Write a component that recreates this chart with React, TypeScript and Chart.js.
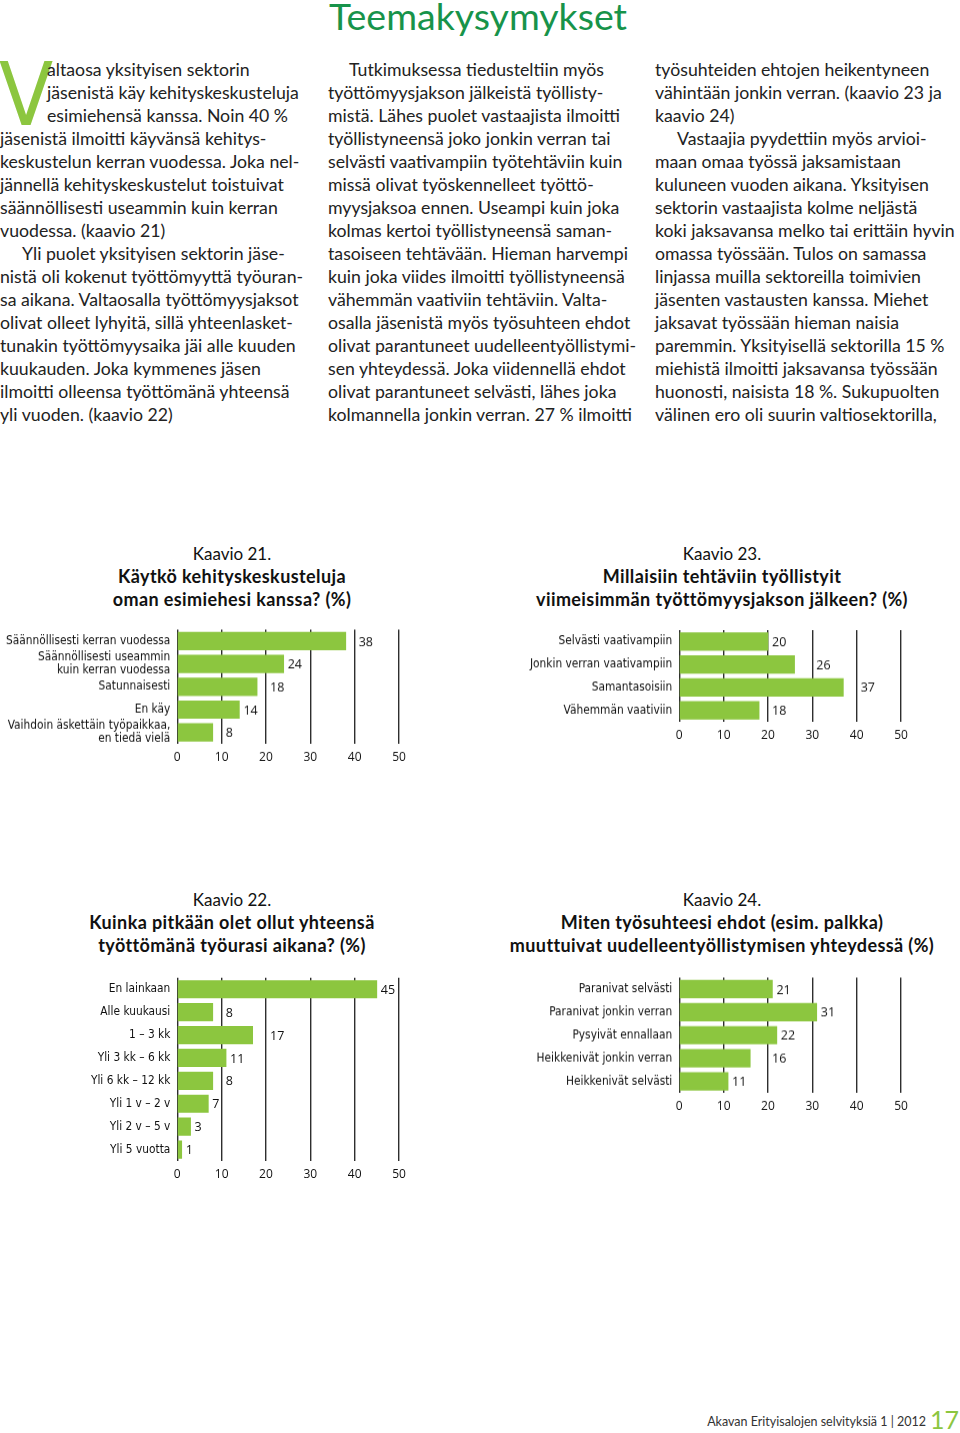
import React, { useEffect, useRef } from "react";
import { Chart, registerables } from "chart.js";

Chart.register(...registerables);

// ---------- DATA ----------
const xTicks = [0, 10, 20, 30, 40, 50];

const chart21Labels: (string | string[])[] = [
  "Säännöllisesti kerran vuodessa",
  ["Säännöllisesti useammin", "kuin kerran vuodessa"],
  "Satunnaisesti",
  "En käy",
  ["Vaihdoin äskettäin työpaikkaa,", "en tiedä vielä"],
];
const chart21Values = [38, 24, 18, 14, 8];

const chart22Labels = [
  "En lainkaan",
  "Alle kuukausi",
  "1 – 3 kk",
  "Yli 3 kk – 6 kk",
  "Yli 6 kk – 12 kk",
  "Yli 1 v – 2 v",
  "Yli 2 v – 5 v",
  "Yli 5 vuotta",
];
const chart22Values = [45, 8, 17, 11, 8, 7, 3, 1];

const chart23Labels = [
  "Selvästi vaativampiin",
  "Jonkin verran vaativampiin",
  "Samantasoisiin",
  "Vähemmän vaativiin",
];
const chart23Values = [20, 26, 37, 18];

const chart24Labels = [
  "Paranivat selvästi",
  "Paranivat jonkin verran",
  "Pysyivät ennallaan",
  "Heikkenivät jonkin verran",
  "Heikkenivät selvästi",
];
const chart24Values = [21, 31, 22, 16, 11];

// ---------- TEXT ----------
const col1Lines = [
  "altaosa yksityisen sektorin",
  "jäsenistä käy kehityskeskusteluja",
  "esimiehensä kanssa. Noin 40 %",
  "jäsenistä ilmoitti käyvänsä kehitys-",
  "keskustelun kerran vuodessa. Joka nel-",
  "jännellä kehityskeskustelut toistuivat",
  "säännöllisesti useammin kuin kerran",
  "vuodessa. (kaavio 21)",
  "Yli puolet yksityisen sektorin jäse-",
  "nistä oli kokenut työttömyyttä työuran-",
  "sa aikana. Valtaosalla työttömyysjaksot",
  "olivat olleet lyhyitä, sillä yhteenlasket-",
  "tunakin työttömyysaika jäi alle kuuden",
  "kuukauden. Joka kymmenes jäsen",
  "ilmoitti olleensa työttömänä yhteensä",
  "yli vuoden. (kaavio 22)",
];
const col2Lines = [
  "Tutkimuksessa tiedusteltiin myös",
  "työttömyysjakson jälkeistä työllisty-",
  "mistä. Lähes puolet vastaajista ilmoitti",
  "työllistyneensä joko jonkin verran tai",
  "selvästi vaativampiin työtehtäviin kuin",
  "missä olivat työskennelleet työttö-",
  "myysjaksoa ennen. Useampi kuin joka",
  "kolmas kertoi työllistyneensä saman-",
  "tasoiseen tehtävään. Hieman harvempi",
  "kuin joka viides ilmoitti työllistyneensä",
  "vähemmän vaativiin tehtäviin. Valta-",
  "osalla jäsenistä myös työsuhteen ehdot",
  "olivat parantuneet uudelleentyöllistymi-",
  "sen yhteydessä. Joka viidennellä ehdot",
  "olivat parantuneet selvästi, lähes joka",
  "kolmannella jonkin verran. 27 % ilmoitti",
];
const col3Lines = [
  "työsuhteiden ehtojen heikentyneen",
  "vähintään jonkin verran. (kaavio 23 ja",
  "kaavio 24)",
  "Vastaajia pyydettiin myös arvioi-",
  "maan omaa työssä jaksamistaan",
  "kuluneen vuoden aikana. Yksityisen",
  "sektorin vastaajista kolme neljästä",
  "koki jaksavansa melko tai erittäin hyvin",
  "omassa työssään. Tulos on samassa",
  "linjassa muilla sektoreilla toimivien",
  "jäsenten vastausten kanssa. Miehet",
  "jaksavat työssään hieman naisia",
  "paremmin. Yksityisellä sektorilla 15 %",
  "miehistä ilmoitti jaksavansa työssään",
  "huonosti, naisista 18 %. Sukupuolten",
  "välinen ero oli suurin valtiosektorilla,",
];

const BAR_COLOR = "#8cc63f";
const GRID_COLOR = "#2e2e2e";
const LABEL_FONT = "'DejaVu Sans Condensed', 'Liberation Sans Narrow', sans-serif";
const NUM_FONT = "'Open Sans', 'DejaVu Sans', sans-serif";
const BODY_FONT = "Lato, 'Open Sans', sans-serif";

const valueLabelPlugin = {
  id: "valueLabels",
  afterDatasetsDraw(chart: any) {
    const ctx = chart.ctx;
    const meta = chart.getDatasetMeta(0);
    const xs = chart.scales.x;
    const data = chart.data.datasets[0].data;
    ctx.save();
    ctx.font = `12.5px ${NUM_FONT}`;
    ctx.fillStyle = "#111";
    ctx.textBaseline = "middle";
    ctx.textAlign = "left";
    meta.data.forEach((bar: any, i: number) => {
      const txt = String(data[i]);
      const w = ctx.measureText(txt).width;
      let x = bar.x + 4;
      for (const t of xTicks) {
        const gx = xs.getPixelForValue(t);
        if (gx >= bar.x - 0.6 && gx <= x + w + 1) x = gx + 4;
      }
      ctx.fillText(txt, x, bar.y + 1);
    });
    ctx.restore();
  },
};

type BarProps = {
  labels: (string | string[])[];
  values: number[];
  left: number;
  top: number;
  width: number;
  axisLeft: number;
  axisRight: number;
  areaTop: number;
  areaHeight: number;
};

function BarChart(p: BarProps) {
  const ref = useRef<HTMLCanvasElement>(null);
  const xAxisH = 30;
  const height = p.areaTop - p.top + p.areaHeight + xAxisH;
  useEffect(() => {
    if (!ref.current) return;
    const chart = new Chart(ref.current, {
      type: "bar",
      data: {
        labels: p.labels as any,
        datasets: [
          {
            data: p.values,
            backgroundColor: BAR_COLOR,
            borderWidth: 0,
            barThickness: 17.5,
          },
        ],
      },
      options: {
        indexAxis: "y",
        responsive: false,
        animation: false,
        events: [],
        layout: {
          padding: {
            top: p.areaTop - p.top,
            bottom: 0,
            left: 0,
            right: p.width - (p.axisRight - p.left),
          },
        },
        plugins: {
          legend: { display: false },
          tooltip: { enabled: false },
          title: { display: false },
        },
        scales: {
          x: {
            type: "linear",
            min: 0,
            max: 50,
            afterFit: (s: any) => {
              s.height = xAxisH;
              s.paddingLeft = 0;
              s.paddingRight = 0;
            },
            ticks: {
              stepSize: 10,
              padding: 6,
              color: "#111",
              font: { family: NUM_FONT, size: 12 },
            },
            grid: {
              color: GRID_COLOR,
              lineWidth: 1.4,
              drawTicks: false,
            },
            border: { display: false },
          },
          y: {
            type: "category",
            afterFit: (s: any) => {
              s.width = p.axisLeft - p.left;
              s.paddingTop = 0;
              s.paddingBottom = 0;
            },
            ticks: {
              autoSkip: false,
              padding: 7,
              color: "#111",
              font: { family: LABEL_FONT, size: 11.8, lineHeight: 1.14 },
            },
            grid: { display: false, drawTicks: false },
            border: { display: false },
          },
        },
      },
      plugins: [valueLabelPlugin],
    });
    return () => chart.destroy();
  }, []);
  return (
    <canvas
      ref={ref}
      width={p.width}
      height={height}
      style={{
        position: "absolute",
        left: p.left,
        top: p.top,
        width: p.width,
        height: height,
      }}
    />
  );
}

function ChartTitle({ cx, top, lines }: { cx: number; top: number; lines: string[] }) {
  return (
    <div
      style={{
        position: "absolute",
        left: cx - 240,
        width: 480,
        top: top,
        textAlign: "center",
        lineHeight: "23px",
        color: "#111",
        whiteSpace: "nowrap",
      }}
    >
      <div style={{ fontFamily: BODY_FONT, fontSize: 17 }}>{lines[0]}</div>
      {lines.slice(1).map((l, i) => (
        <div
          key={i}
          style={{ fontFamily: BODY_FONT, fontSize: 18, fontWeight: 700, letterSpacing: 0.4 }}
        >
          {l}
        </div>
      ))}
    </div>
  );
}

function Column({
  left,
  lines,
  indents,
}: {
  left: number;
  lines: string[];
  indents: Record<number, number>;
}) {
  return (
    <div
      style={{
        position: "absolute",
        left,
        top: 57.5,
        fontFamily: BODY_FONT,
        fontSize: 17.7,
        lineHeight: "23px",
        color: "#222",
        whiteSpace: "nowrap",
      }}
    >
      {lines.map((l, i) => (
        <div key={i} style={{ paddingLeft: indents[i] || 0 }}>
          {l}
        </div>
      ))}
    </div>
  );
}

export default function App() {
  return (
    <div
      style={{
        position: "absolute",
        left: 0,
        top: 0,
        width: 960,
        height: 1433,
        background: "#fff",
        overflow: "hidden",
      }}
    >
      <div
        style={{
          position: "absolute",
          left: 0,
          width: 956,
          top: -6,
          textAlign: "center",
          fontFamily: BODY_FONT,
          fontSize: 37.5,
          lineHeight: "44px",
          color: "#17934a",
        }}
      >
        Teemakysymykset
      </div>

      <div
        style={{
          position: "absolute",
          left: -1,
          top: 50,
          fontFamily: LABEL_FONT,
          fontSize: 88,
          lineHeight: "90px",
          color: BAR_COLOR,
        }}
      >
        V
      </div>

      <Column left={0} lines={col1Lines} indents={{ 0: 47, 1: 47, 2: 47, 8: 22 }} />
      <Column left={328} lines={col2Lines} indents={{ 0: 21 }} />
      <Column left={655} lines={col3Lines} indents={{ 3: 22 }} />

      <ChartTitle
        cx={232}
        top={542}
        lines={["Kaavio 21.", "Käytkö kehityskeskusteluja", "oman esimiehesi kanssa? (%)"]}
      />
      <ChartTitle
        cx={722}
        top={542}
        lines={[
          "Kaavio 23.",
          "Millaisiin tehtäviin työllistyit",
          "viimeisimmän työttömyysjakson jälkeen? (%)",
        ]}
      />
      <ChartTitle
        cx={232}
        top={888}
        lines={[
          "Kaavio 22.",
          "Kuinka pitkään olet ollut yhteensä",
          "työttömänä työurasi aikana? (%)",
        ]}
      />
      <ChartTitle
        cx={722}
        top={888}
        lines={[
          "Kaavio 24.",
          "Miten työsuhteesi ehdot (esim. palkka)",
          "muuttuivat uudelleentyöllistymisen yhteydessä (%)",
        ]}
      />

      <BarChart
        labels={chart21Labels}
        values={chart21Values}
        left={0}
        top={620}
        width={430}
        axisLeft={177.3}
        axisRight={399}
        areaTop={629.6}
        areaHeight={114}
      />
      <BarChart
        labels={chart23Labels}
        values={chart23Values}
        left={480}
        top={620}
        width={450}
        axisLeft={679.3}
        axisRight={901}
        areaTop={630}
        areaHeight={91.6}
      />
      <BarChart
        labels={chart22Labels}
        values={chart22Values}
        left={0}
        top={968}
        width={430}
        axisLeft={177.3}
        axisRight={399}
        areaTop={977.8}
        areaHeight={183.6}
      />
      <BarChart
        labels={chart24Labels}
        values={chart24Values}
        left={480}
        top={968}
        width={450}
        axisLeft={679.3}
        axisRight={901}
        areaTop={977.5}
        areaHeight={115}
      />

      <div
        style={{
          position: "absolute",
          left: 600,
          width: 326,
          top: 1413,
          textAlign: "right",
          fontFamily: BODY_FONT,
          fontSize: 12.5,
          lineHeight: "18px",
          color: "#333",
        }}
      >
        Akavan Erityisalojen selvityksiä 1 | 2012
      </div>
      <div
        style={{
          position: "absolute",
          left: 930,
          top: 1405,
          fontFamily: BODY_FONT,
          fontSize: 25,
          lineHeight: "28px",
          color: BAR_COLOR,
        }}
      >
        17
      </div>
    </div>
  );
}
